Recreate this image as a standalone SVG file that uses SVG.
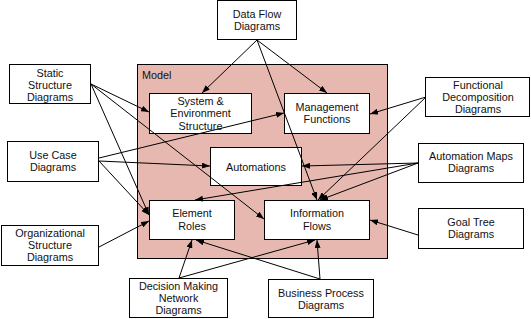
<svg xmlns="http://www.w3.org/2000/svg" width="531" height="319" viewBox="0 0 531 319">
<defs>
<marker id="ah" markerUnits="userSpaceOnUse" markerWidth="8" markerHeight="6" refX="8" refY="3" orient="auto">
<path d="M0,0 L8,3 L0,6 z" fill="#000"/>
</marker>
<style>
.b{fill:#fff;stroke:#000;stroke-width:1}
.m{fill:#e6b8af;stroke:#000;stroke-width:1}
text{font-family:"Liberation Sans",Arial,sans-serif;font-size:10.8px;fill:#111;text-anchor:middle}
.c line{stroke:#000;stroke-width:1;marker-end:url(#ah)}
</style>
</defs>
<rect width="531" height="319" fill="#fff"/>
<g id="model">
<rect class="m" x="137.5" y="64.5" width="250" height="194"/>
<text x="142" y="79" style="text-anchor:start">Model</text>
</g>
<g id="dataflow"><rect class="b" x="217.5" y="0.5" width="79" height="39"/><text x="257" y="18">Data Flow</text><text x="257" y="30">Diagrams</text></g>
<g id="static"><rect class="b" x="9.5" y="64.5" width="81" height="39"/><text x="50" y="76.5">Static</text><text x="50" y="88.5">Structure</text><text x="50" y="100.5">Diagrams</text></g>
<g id="usecase"><rect class="b" x="7.5" y="141.5" width="91" height="40"/><text x="53" y="159">Use Case</text><text x="53" y="171">Diagrams</text></g>
<g id="org"><rect class="b" x="1.5" y="225.5" width="97" height="40"/><text x="50" y="236.5">Organizational</text><text x="50" y="249">Structure</text><text x="50" y="261">Diagrams</text></g>
<g id="system"><rect class="b" x="149.5" y="93.5" width="102" height="40"/><text x="200.5" y="104.5">System &amp;</text><text x="200.5" y="117">Environment</text><text x="200.5" y="129.5">Structure</text></g>
<g id="mgmt"><rect class="b" x="284.5" y="93.5" width="85" height="40"/><text x="327" y="111">Management</text><text x="327" y="123">Functions</text></g>
<g id="automations"><rect class="b" x="210.5" y="147.5" width="91" height="38"/><text x="256" y="170.5">Automations</text></g>
<g id="element"><rect class="b" x="149.5" y="200.5" width="85" height="39"/><text x="192" y="217">Element</text><text x="192" y="229.5">Roles</text></g>
<g id="info"><rect class="b" x="264.5" y="200.5" width="105" height="39"/><text x="317" y="217">Information</text><text x="317" y="229.5">Flows</text></g>
<g id="funcdecomp"><rect class="b" x="425.5" y="77.5" width="104" height="39"/><text x="478" y="89">Functional</text><text x="478" y="101">Decomposition</text><text x="478" y="113">Diagrams</text></g>
<g id="automaps"><rect class="b" x="418.5" y="143.5" width="105" height="39"/><text x="471" y="160">Automation Maps</text><text x="471" y="172">Diagrams</text></g>
<g id="goaltree"><rect class="b" x="418.5" y="208.5" width="105" height="40"/><text x="471" y="226">Goal Tree</text><text x="471" y="238">Diagrams</text></g>
<g id="decision"><rect class="b" x="129.5" y="278.5" width="98" height="39"/><text x="178.5" y="290">Decision Making</text><text x="178.5" y="301.5">Network</text><text x="178.5" y="313.5">Diagrams</text></g>
<g id="business"><rect class="b" x="268.5" y="279.5" width="105" height="38"/><text x="321" y="296.5">Business Process</text><text x="321" y="308.5">Diagrams</text></g>
<g id="connectors" class="c">
<line x1="257" y1="40" x2="202" y2="93"/>
<line x1="257" y1="40" x2="327" y2="93"/>
<line x1="257" y1="40" x2="317" y2="200"/>
<line x1="91" y1="84" x2="149" y2="112"/>
<line x1="91" y1="84" x2="149" y2="215"/>
<line x1="91" y1="84" x2="264" y2="219"/>
<line x1="99" y1="158" x2="284" y2="113"/>
<line x1="99" y1="161" x2="210" y2="166"/>
<line x1="99" y1="161" x2="149" y2="215"/>
<line x1="99" y1="247" x2="149" y2="221"/>
<line x1="179" y1="278" x2="192" y2="240"/>
<line x1="179" y1="278" x2="315" y2="240"/>
<line x1="320" y1="279" x2="317" y2="240"/>
<line x1="320" y1="279" x2="196" y2="240"/>
<line x1="426" y1="97" x2="370" y2="114"/>
<line x1="426" y1="97" x2="318" y2="200"/>
<line x1="418" y1="163" x2="302" y2="166"/>
<line x1="418" y1="163" x2="320" y2="200"/>
<line x1="418" y1="163" x2="195" y2="200"/>
<line x1="418" y1="235" x2="370" y2="220"/>
</g>
</svg>
